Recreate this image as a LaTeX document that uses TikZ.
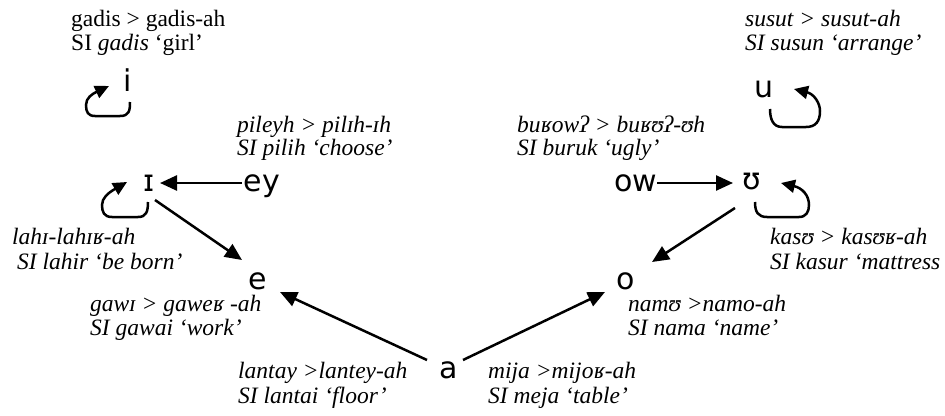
\documentclass[tikz,border=0pt]{standalone}
\usepackage{fontspec}
\setmainfont{Liberation Serif}
\newfontfamily\vowelfont{DejaVu Sans}
\usetikzlibrary{arrows.meta,calc}
\newcommand{\fs}[1]{\fontsize{#1}{#1}\selectfont}
\begin{document}
\begin{tikzpicture}[x=1pt,y=-1pt,
  vw/.style={font=\vowelfont\fs{30}, inner sep=0pt, text height=16pt, text depth=0pt, anchor=center},
  lbl/.style={font=\fs{23.5}, inner sep=0pt, anchor=base west},
  ilbl/.style={lbl, font=\fs{23.5}\itshape},
  arr/.style={line width=2.5pt, -{Triangle[length=17pt,width=15pt]}},
  selfloop/.style={line width=2.5pt, -{Triangle[length=14pt,width=13pt]}}]
\useasboundingbox (0,0) rectangle (945,415);

% vowels
\node[vw] (i) at (128,83) {i};
\node[vw] (u) at (764,89) {u};
\node[vw] (I) at (149,183) {ɪ};
\node[vw] (ey) at (262,183) {ey};
\node[vw] (ow) at (636,183) {ow};
\node[vw] (U) at (752,181) {ʊ};
\node[vw] (e) at (258,281) {e};
\node[vw] (o) at (626,281) {o};
\node[vw] (a) at (449,370) {a};

% labels
\node[lbl] (t1a) at (71,27) {gadis > gadis-ah};
\node[lbl] (t1b) at (71,50) {SI \textit{gadis} ‘girl’};
\node[ilbl] (t2a) at (745,27) {susut > susut-ah};
\node[ilbl] (t2b) at (745,50) {SI susun ‘arrange’};
\node[ilbl] (t3a) at (237,132) {pileyh > pilɪh-ɪh};
\node[ilbl] (t3b) at (237,155) {SI pilih ‘choose’};
\node[ilbl] (t4a) at (517,132) {buʁowʔ > buʁʊʔ-ʊh};
\node[ilbl] (t4b) at (517,155) {SI buruk ‘ugly’};
\node[ilbl] (t5a) at (12,244) {lahɪ-lahɪʁ-ah};
\node[ilbl] (t5b) at (17,269) {SI lahir ‘be born’};
\node[ilbl] (t6a) at (770,244) {kasʊ > kasʊʁ-ah};
\node[ilbl] (t6b) at (770,269) {SI kasur ‘mattress};
\node[ilbl] (t7a) at (90,311) {gawɪ > gaweʁ -ah};
\node[ilbl] (t7b) at (90,335) {SI gawai ‘work’};
\node[ilbl] (t8a) at (628,311) {namʊ >namo-ah};
\node[ilbl] (t8b) at (628,335) {SI nama ‘name’};
\node[ilbl] (t9a) at (238,378) {lantay >lantey-ah};
\node[ilbl] (t9b) at (238,403) {SI lantai ‘floor’};
\node[ilbl] (t10a) at (488,378) {mija >mijoʁ-ah};
\node[ilbl] (t10b) at (488,403) {SI meja ‘table’};

% straight arrows
\draw[arr] ($(ey)+(-20,0)$) -- ($(I)+(11,0)$);
\draw[arr] ($(ow)+(21,0)$) -- ($(U)+(-19,2)$);
\draw[arr] ($(I)+(6,17)$) -- ($(e)+(-16,-21)$);
\draw[arr] ($(U)+(-17,27)$) -- ($(o)+(26,-19)$);
\draw[arr] ($(a)+(-22,-10)$) -- ($(e)+(22,11)$);
\draw[arr] ($(a)+(14,-10)$) -- ($(o)+(-21,11)$);

% self loops
\draw[selfloop] ($(i)+(2,19)$) .. controls ($(i)+(2,28)$) and ($(i)+(1,33)$) .. ($(i)+(-8,33)$)
  -- ($(i)+(-33,33)$) .. controls ($(i)+(-40,33)$) and ($(i)+(-42,29)$) .. ($(i)+(-42,22)$)
  .. controls ($(i)+(-42,15)$) and ($(i)+(-36,11)$) .. ($(i)+(-19,3)$);
\draw[selfloop] ($(I)+(-1,19)$) .. controls ($(I)+(-1,29)$) and ($(I)+(-3,34)$) .. ($(I)+(-11,34)$)
  -- ($(I)+(-37,34)$) .. controls ($(I)+(-45,34)$) and ($(I)+(-47,29)$) .. ($(I)+(-47,22)$)
  .. controls ($(I)+(-47,15)$) and ($(I)+(-41,10)$) .. ($(I)+(-22,-1)$);
\draw[selfloop] ($(u)+(6,20)$) .. controls ($(u)+(6,30)$) and ($(u)+(9,38)$) .. ($(u)+(18,38)$)
  -- ($(u)+(42,38)$) .. controls ($(u)+(52,38)$) and ($(u)+(56,32)$) .. ($(u)+(56,22)$)
  .. controls ($(u)+(56,14)$) and ($(u)+(50,5)$) .. ($(u)+(30,0)$);
\draw[selfloop] ($(U)+(3,21)$) .. controls ($(U)+(3,31)$) and ($(U)+(6,36)$) .. ($(U)+(15,36)$)
  -- ($(U)+(47,36)$) .. controls ($(U)+(54,36)$) and ($(U)+(57,31)$) .. ($(U)+(57,24)$)
  .. controls ($(U)+(57,14)$) and ($(U)+(50,7)$) .. ($(U)+(29,2)$);
\end{tikzpicture}
\end{document}
